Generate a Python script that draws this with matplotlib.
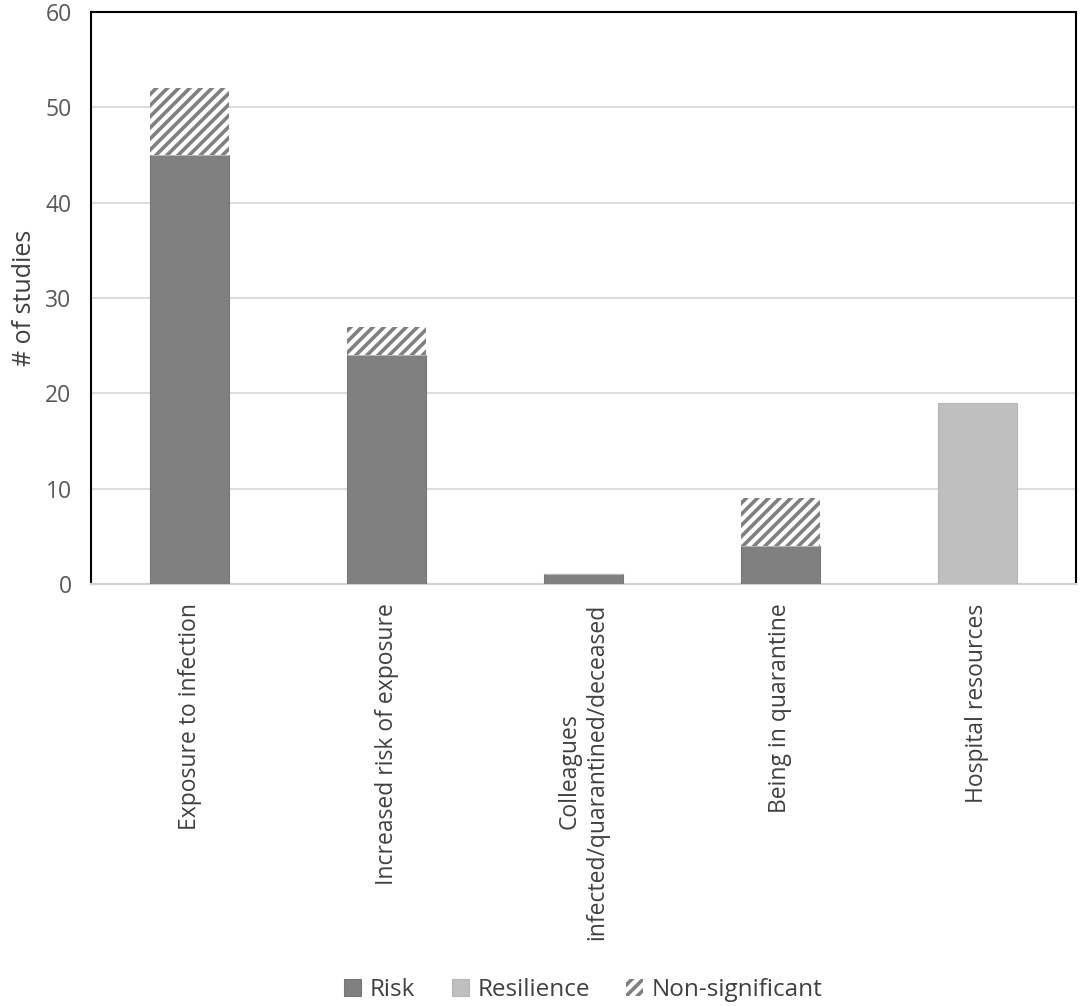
import numpy as np
import matplotlib.pyplot as plt

plt.rcParams['font.family'] = ['Open Sans', 'DejaVu Sans']
plt.rcParams['hatch.color'] = '#808080'
plt.rcParams['hatch.linewidth'] = 2.6

categories = ['Exposure to infection', 'Increased risk of exposure',
              'Colleagues\ninfected/quarantined/deceased', 'Being in quarantine',
              'Hospital resources']
risk = [45, 24, 1, 4, 0]
resilience = [0, 0, 0, 0, 19]
nonsig = [7, 3, 0, 5, 0]

x = np.arange(len(categories))
fig = plt.figure(figsize=(10.84, 10.06), dpi=100)
ax = fig.add_axes([0.084, 0.4195, 0.9085, 0.5685])

w = 0.405
ax.bar(x, risk, w, color='#808080', edgecolor='#767676', lw=0.8, label='Risk', zorder=3)
ax.bar(x, resilience, w, bottom=risk, color='#bfbfbf', edgecolor='#b5b5b5', lw=0.8,
       label='Resilience', zorder=3)
bottoms = np.array(risk) + np.array(resilience)
ax.bar(x, nonsig, w, bottom=bottoms, color='white', edgecolor='#808080', lw=0,
       hatch='///', label='Non-significant', zorder=3)

ax.set_xlim(-0.5, len(categories) - 0.5)
ax.set_ylim(0, 60)
ax.set_yticks(range(0, 61, 10))
ax.yaxis.grid(True, color='#d9d9d9', lw=1.3, zorder=0)
ax.set_axisbelow(True)
for s in ['left', 'top', 'right']:
    ax.spines[s].set_color('black')
    ax.spines[s].set_linewidth(1.5)
ax.spines['bottom'].set_color('#d0d0d0')
ax.spines['bottom'].set_linewidth(1.5)
ax.tick_params(axis='y', length=0, labelsize=16.5, labelcolor='#595959', pad=14)
ax.tick_params(axis='x', length=0, labelsize=16.5, pad=14)
ax.set_xticks(x)
ax.set_xticklabels(categories, rotation=90, ha='center', va='top', multialignment='center',
                   color='#404040')
ax.set_ylabel('# of studies', fontsize=18, color='#404040', labelpad=6)

ax.legend(loc='lower center', bbox_to_anchor=(0.5, -0.77), ncol=3, frameon=False,
          fontsize=17.5, handlelength=0.7, handleheight=0.7, handletextpad=0.35,
          columnspacing=1.5, labelcolor='#404040')

fig.savefig('out.png', dpi=100)
